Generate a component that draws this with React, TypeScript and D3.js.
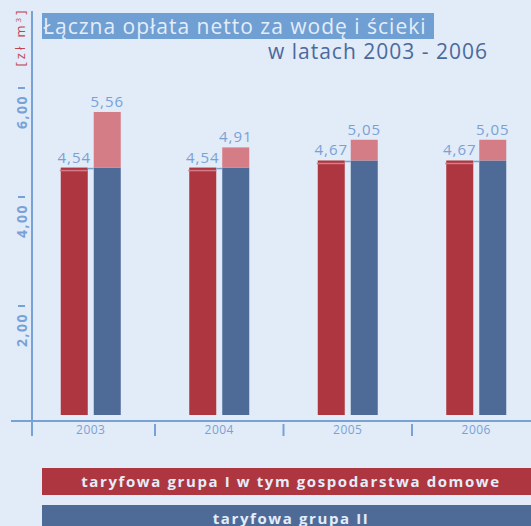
import React from 'react';
import * as d3 from 'd3';

const years = ['2003', '2004', '2005', '2006'];
const grupaI = [4.54, 4.54, 4.67, 4.67];
const grupaII = [5.56, 4.91, 5.05, 5.05];
const yTicks = [2, 4, 6];
const legendLabels = ['taryfowa grupa I w tym gospodarstwa domowe', 'taryfowa grupa II'];

const W = 531;
const H = 526;
const bg = '#e2ebf8';
const red = '#ae3640';
const blue = '#4e6b98';
const pink = '#d47d86';
const light = '#78a2d6';
const font = '"Open Sans", sans-serif';

const fmt = (v: number) => v.toFixed(2).replace('.', ',');

export default function App() {
  const x = d3.scaleBand().domain(years).range([26.5, 540.5]).padding(0);
  const y = d3.scaleLinear().domain([0, 6]).range([415, 88]);
  const barW = 27;

  return (
    <div style={{ position: 'absolute', left: 0, top: 0 }}>
      <svg width={W} height={H} style={{ display: 'block', fontFamily: font }}>
        <rect width={W} height={H} fill={bg} />

        {/* title */}
        <rect x={42} y={13} width={392} height={26} fill="#6f9fd3" />
        <text x={43} y={34} fontSize={21} letterSpacing={1} fill="#e4edf9">Łączna opłata netto za wodę i ścieki</text>
        <text x={488} y={59} fontSize={21} letterSpacing={1} fill="#4a6a9c" textAnchor="end">w latach 2003 - 2006</text>

        {/* unit */}
        <text transform="translate(25,37) rotate(-90)" fontSize={13} fill="#c0444e" textAnchor="middle" letterSpacing={3}>
          [zł m<tspan dy={-4} fontSize={8}>3</tspan><tspan dy={4}>]</tspan>
        </text>

        {/* axes */}
        <line x1={32} x2={32} y1={11} y2={436} stroke={light} strokeWidth={2} />
        <line x1={11} x2={W} y1={421} y2={421} stroke={light} strokeWidth={2} />

        {yTicks.map(t => (
          <g key={t}>
            <line x1={18} x2={25} y1={y(t)} y2={y(t)} stroke={light} strokeWidth={2} />
            <text transform={`translate(27,${y(t) + 7}) rotate(-90)`} textAnchor="end" fontSize={14} fontWeight="bold" letterSpacing={1.5} fill={light}>
              {fmt(t)}
            </text>
          </g>
        ))}

        {years.slice(1).map(yr => (
          <line key={yr} x1={x(yr)!} x2={x(yr)!} y1={424} y2={436} stroke={light} strokeWidth={2} />
        ))}

        {years.map((yr, i) => {
          const c = x(yr)! + x.bandwidth() / 2;
          const rx = c - 30;
          const bx = c + 3;
          const v1 = grupaI[i];
          const v2 = grupaII[i];
          return (
            <g key={yr}>
              <rect x={rx} y={y(v1)} width={barW} height={y(0) - y(v1)} fill={red} />
              <line x1={rx - 1} x2={rx + barW} y1={y(v1) + 3} y2={y(v1) + 3} stroke={pink} strokeWidth={1.5} />
              <rect x={bx} y={y(v1)} width={barW} height={y(0) - y(v1)} fill={blue} />
              <rect x={bx} y={y(v2)} width={barW} height={y(v1) - y(v2)} fill={pink} />
              <line x1={rx + barW} x2={bx} y1={y(v1) + 1} y2={y(v1) + 1} stroke={light} strokeWidth={1.5} />
              <text x={rx + barW / 2} y={y(v1) - 5} textAnchor="middle" fontSize={15} letterSpacing={1} fill={light}>{fmt(v1)}</text>
              <text x={bx + barW / 2} y={y(v2) - 5} textAnchor="middle" fontSize={15} letterSpacing={1} fill={light}>{fmt(v2)}</text>
              <text x={c} y={434} textAnchor="middle" fontSize={12} letterSpacing={0.5} fill={light}>{yr}</text>
            </g>
          );
        })}

        {/* legend */}
        {legendLabels.map((l, i) => (
          <g key={l}>
            <rect x={42} y={468 + i * 37} width={W - 42} height={27} fill={i === 0 ? red : blue} />
            <text x={291} y={487 + i * 37} textAnchor="middle" fontSize={15} fontWeight="bold" letterSpacing={1.6} fill="#e4edf9">{l}</text>
          </g>
        ))}
      </svg>
    </div>
  );
}
